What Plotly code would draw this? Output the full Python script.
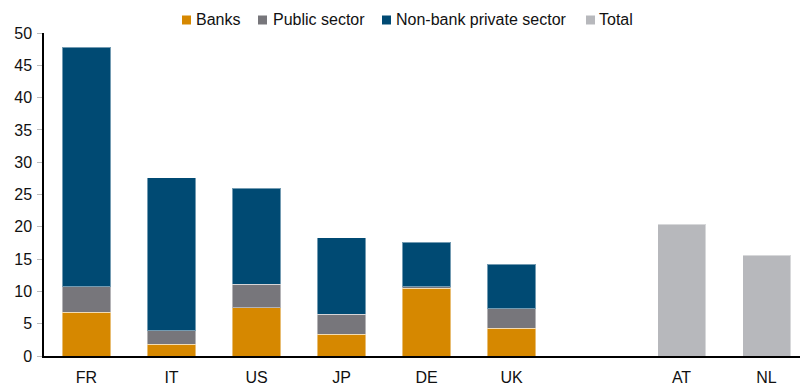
import plotly.graph_objects as go

categories = ["FR", "IT", "US", "JP", "DE", "UK", "", "AT", "NL"]
banks = [6.8, 1.85, 7.5, 3.35, 10.45, 4.3, None, None, None]
public_sector = [3.9, 2.05, 3.6, 3.15, 0.3, 3.0, None, None, None]
non_bank = [37.1, 23.7, 14.9, 11.8, 6.85, 6.9, None, None, None]
total = [None, None, None, None, None, None, None, 20.4, 15.6]

series_names = ["Banks", "Public sector", "Non-bank private sector", "Total"]
series_colors = ["#D68800", "#77767B", "#004A73", "#B7B8BC"]
series_values = [banks, public_sector, non_bank, total]

# legend layout (pixel positions of squares / text starts)
legend_sq_px = [182, 258, 382, 586]
legend_txt_px = [194, 271, 394, 597]

W, H = 800, 385
ML, MR, MT, MB = 44, 0, 33, 29
PW, PH = W - ML - MR, H - MT - MB

def px_x(p):
    return (p - ML) / PW

def px_y(p):
    return (H - MB - p) / PH

x = list(range(len(categories)))
BW = 0.565
line = dict(width=1, color="rgba(255,255,255,0.45)")

fig = go.Figure()
for name, col, vals in zip(series_names, series_colors, series_values):
    fig.add_trace(go.Bar(x=x, y=vals, name=name, marker=dict(color=col, line=line),
                         width=BW, showlegend=False))

font = "Liberation Sans, Arial, sans-serif"
for name, col, sq, tx in zip(series_names, series_colors, legend_sq_px, legend_txt_px):
    fig.add_shape(type="rect", xref="paper", yref="paper",
                  x0=px_x(sq), x1=px_x(sq + 9), y0=px_y(24.5), y1=px_y(15.5),
                  fillcolor=col, line=dict(width=0))
    fig.add_annotation(text=name, xref="paper", yref="paper", x=px_x(tx), y=px_y(20),
                       xanchor="left", yanchor="middle", showarrow=False,
                       font=dict(family=font, size=16, color="#111"))

fig.update_layout(
    barmode="stack",
    width=W, height=H,
    margin=dict(l=ML, r=MR, t=MT, b=MB),
    paper_bgcolor="white", plot_bgcolor="white",
    font=dict(family=font, size=16, color="#111"),
    showlegend=False,
    xaxis=dict(range=[-0.5, 8.394], tickvals=x, ticktext=categories,
               showline=True, linecolor="#000", linewidth=1.5, ticks="",
               showgrid=False, zeroline=False, ticklabelstandoff=6),
    yaxis=dict(range=[0, 50], dtick=5, showline=True, linecolor="#000", linewidth=1.5,
               ticks="outside", ticklen=5, tickcolor="#BBBBBB", showgrid=False,
               zeroline=False, ticklabelstandoff=2),
)
fig.write_html("out.html")
